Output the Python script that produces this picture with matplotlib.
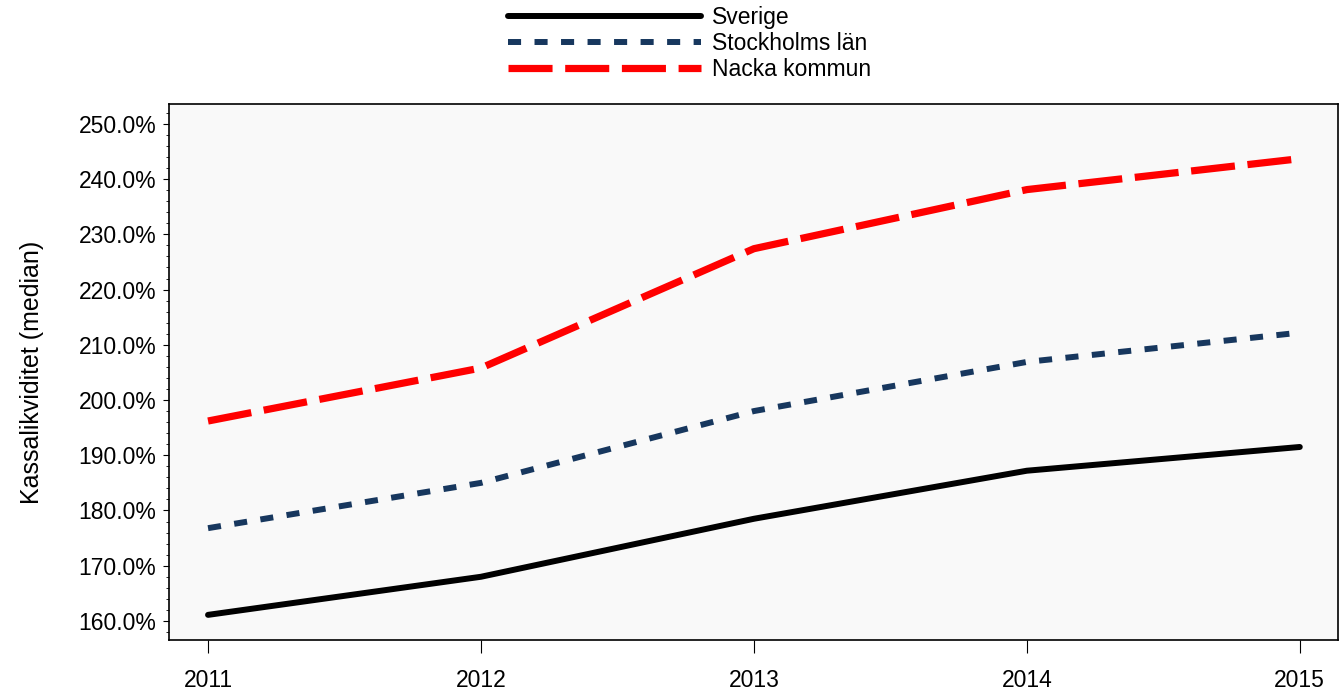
import matplotlib
matplotlib.use("Agg")
import matplotlib.pyplot as plt
from matplotlib.ticker import FuncFormatter, MultipleLocator

plt.rcParams['font.family'] = ['Liberation Sans', 'DejaVu Sans']

years = [2011, 2012, 2013, 2014, 2015]
sverige = [161.1, 168.0, 178.5, 187.2, 191.5]
stockholm = [176.8, 185.0, 198.0, 206.9, 212.2]
nacka = [196.2, 205.8, 227.4, 238.1, 243.7]
labels = ["Sverige", "Stockholms län", "Nacka kommun"]

fig = plt.figure(figsize=(13.42, 6.92), dpi=100)
ax = fig.add_axes([169/1342, 1-640/692, (1338-169)/1342, (640-104)/692])
ax.set_facecolor('#F9F9F9')

ax.plot(years, sverige, color='black', lw=4.3, solid_capstyle='round', label=labels[0])
ax.plot(years, stockholm, color='#17375E', lw=4.3,
        linestyle=(0, (2.19, 2.25)), label=labels[1])
ax.plot(years, nacka, color='#FF0000', lw=5.2,
        linestyle=(0, (6.1, 1.75)), label=labels[2])

ax.set_xlim(2010.857, 2015.14)
ax.set_ylim(156.55, 253.6)
ax.set_xticks(years)
ax.set_xticklabels([str(y) for y in years])
ax.yaxis.set_major_locator(MultipleLocator(10))
ax.yaxis.set_minor_locator(MultipleLocator(2))
ax.yaxis.set_major_formatter(FuncFormatter(lambda v, p: f"{v:.1f}%"))
ax.tick_params(axis='y', which='major', length=4, labelsize=16.5, direction='out', pad=5)
ax.tick_params(axis='y', which='minor', length=2)
ax.tick_params(axis='x', which='major', length=9, labelsize=16.5, pad=12)
ax.set_ylabel("Kassalikviditet (median)", fontsize=18, labelpad=25)
for s in ax.spines.values():
    s.set_color('black')
    s.set_linewidth(1.2)

leg = fig.legend(loc='upper center', bbox_to_anchor=(0.514, 1.014), frameon=False,
                 fontsize=16.5, handlelength=8.4, labelspacing=0.12, handletextpad=0.5,
                 borderpad=0.2)

fig.savefig("out.png", dpi=100)
